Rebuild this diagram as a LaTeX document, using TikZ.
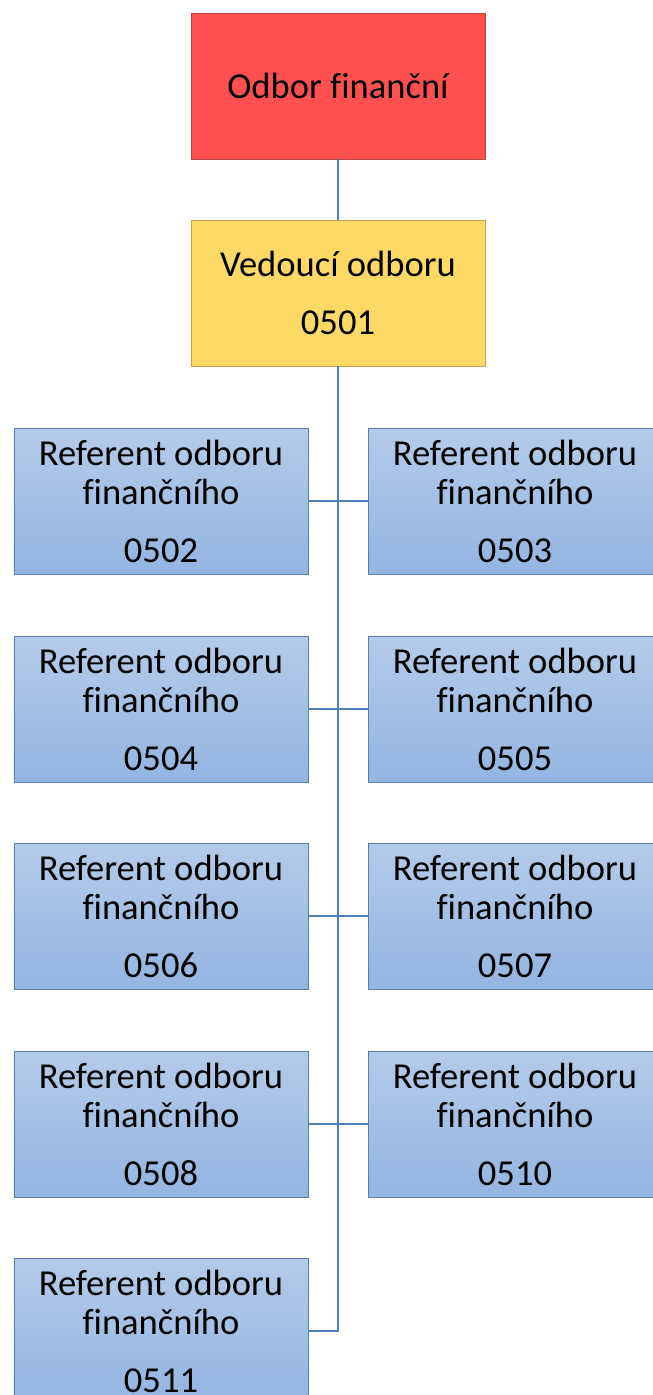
\documentclass[tikz,border=0pt]{standalone}
\usepackage{fontspec}
\setmainfont{Carlito}[Ligatures=NoCommon]
\usetikzlibrary{positioning}
\definecolor{odbred}{HTML}{FF5050}
\definecolor{odbredline}{HTML}{B94646}
\definecolor{vedyellow}{HTML}{FFD966}
\definecolor{vedyellowline}{HTML}{C4A34A}
\definecolor{reftop}{HTML}{B3CBEA}
\definecolor{refbottom}{HTML}{93B5E1}
\definecolor{refline}{HTML}{5A7EAA}
\definecolor{connblue}{HTML}{4F81BD}

\begin{document}
\begin{tikzpicture}[
    box/.style={rectangle, minimum width=5.88cm, minimum height=2.92cm, inner sep=0pt,
        align=center, font=\fontsize{20.8}{22.2}\selectfont},
    head/.style={box, fill=odbred, draw=odbredline},
    lead/.style={box, fill=vedyellow, draw=vedyellowline},
    refbox/.style={box, top color=reftop, bottom color=refbottom, draw=refline},
    conn/.style={connblue, line width=1.4pt}
]
        \useasboundingbox (0,0) rectangle (13.06,-27.9);
        % Nodes
        \node (n1) at (6.76,-1.72) [head] {Odbor finanční};
        \node (n2) at (6.76,-5.86) [lead] {Vedoucí odboru\\[10.8pt]0501};
        \node (n3) at (3.22,-10.02) [refbox] {Referent odboru\\finančního\\[10.8pt]0502};
        \node (n4) at (10.30,-10.02) [refbox] {Referent odboru\\finančního\\[10.8pt]0503};
        \node (n5) at (3.22,-14.18) [refbox] {Referent odboru\\finančního\\[10.8pt]0504};
        \node (n6) at (10.30,-14.18) [refbox] {Referent odboru\\finančního\\[10.8pt]0505};
        \node (n7) at (3.22,-18.32) [refbox] {Referent odboru\\finančního\\[10.8pt]0506};
        \node (n8) at (10.30,-18.32) [refbox] {Referent odboru\\finančního\\[10.8pt]0507};
        \node (n9) at (3.22,-22.48) [refbox] {Referent odboru\\finančního\\[10.8pt]0508};
        \node (n10) at (10.30,-22.48) [refbox] {Referent odboru\\finančního\\[10.8pt]0510};
        \node (n11) at (3.22,-26.62) [refbox] {Referent odboru\\finančního\\[10.8pt]0511};

        % Edges
        \draw[conn] (n1) -- (n2);
        \draw[conn] (n2.south) |- (n11.east);
        \foreach \i in {3,5,7,9} {
            \draw[conn] (n\i.east) -- (n\i.east -| n2.south);
        }
        \foreach \i in {4,6,8,10} {
            \draw[conn] (n\i.west) -- (n\i.west -| n2.south);
        }

    \end{tikzpicture}
\end{document}
